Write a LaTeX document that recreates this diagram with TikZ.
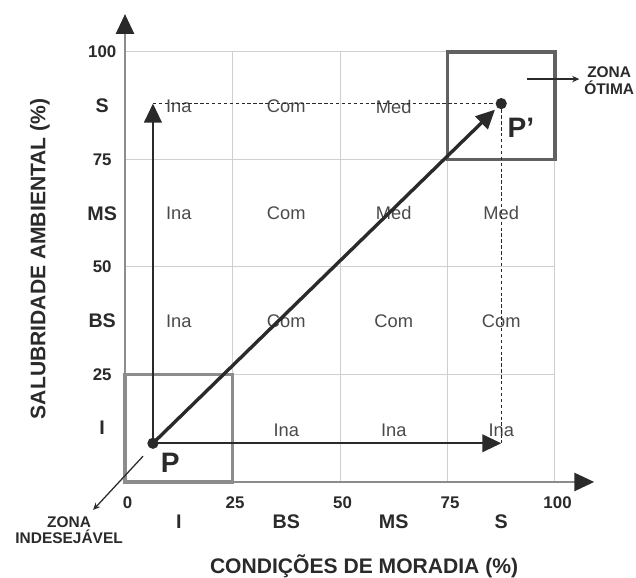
\documentclass[tikz,border=0pt]{standalone}
\usepackage{fontspec}
\setmainfont{Liberation Sans}
\usetikzlibrary{arrows.meta,calc}

\definecolor{ink}{HTML}{2A2A2A}
\definecolor{gridgray}{HTML}{CFCFCF}
\definecolor{axisgray}{HTML}{8C8C8C}

\begin{document}
\begin{tikzpicture}[x=1.075mm, y=1.075mm,
                    every node/.style = {text=ink},
                    grid line/.style = {draw=gridgray, line width=0.7pt},
                    axis/.style = {draw=axisgray, line width=1pt, -{Triangle[length=14pt, width=13pt, color=ink]}},
                    move/.style = {draw=ink, line width=1.6pt, -{Triangle[length=13.5pt, width=12.5pt]}},
                    guide/.style = {draw=ink, line width=0.7pt, dash pattern=on 2.4pt off 1.8pt},
                    zone/.style = {line width=2.8pt},
                    pointer/.style = {draw=ink, line width=0.9pt, -{Stealth[length=5pt, width=4.5pt]}},
                    dot/.style = {circle, fill=ink, inner sep=0pt, minimum size=8pt},
                    tick label/.style = {font=\fontsize{12}{13}\selectfont\bfseries},
                    level label/.style = {font=\fontsize{14}{15}\selectfont\bfseries},
                    cell/.style = {font=\fontsize{13}{14}\selectfont, text=ink!85},
                    axis title/.style = {font=\fontsize{15}{16}\selectfont\bfseries},
                    zone label/.style = {font=\fontsize{11}{12}\selectfont\bfseries, align=center},
                    point label/.style = {font=\fontsize{20}{21}\selectfont\bfseries} ]

                \useasboundingbox (-29.07,-22.33) rectangle (118.84,112.09);

                % grid
                \foreach \v in {25,50,...,100} {
                    \draw[grid line] (\v,0) -- (\v,100);
                    \draw[grid line] (0,\v) -- (100,\v);
                }
                \draw[axis] (0,0) -- (109.1,0);
                \draw[axis] (0,0) -- (0,108.8);

                % zones
                \draw[zone, draw=axisgray] (0,0) rectangle (25,25);
                \draw[zone, draw=black!62] (75,75) rectangle (100,100);

                % scale left
                \foreach \v in {25,50,75,100} \node[tick label] at (-5.3,\v) {\v};
                \foreach \v/\t in {87.5/S,62.5/MS,37.5/BS,12.5/I} \node[level label] at (-5.3,\v) {\t};
                % scale bottom
                \foreach \v in {0,25,50,75,100} \node[tick label] at (\v+0.6,-4.9) {\v};
                \foreach \v/\t in {12.5/I,37.5/BS,62.5/MS,87.5/S} \node[level label] at (\v,-9.3) {\t};

                \node[axis title, rotate=90] (ytitle) at (-19.8,51.9) {SALUBRIDADE AMBIENTAL (\%)};
                \node[axis title] (xtitle) at (55.6,-19.5) {CONDIÇÕES DE MORADIA (\%)};

                % classes
                \foreach \x/\y/\t in {12.5/87.3/Ina, 37.5/87.3/Com, 62.5/87.3/Med,
                                      12.5/62.5/Ina, 37.5/62.5/Com, 62.5/62.5/Med, 87.5/62.5/Med,
                                      12.5/37.3/Ina, 37.5/37.3/Com, 62.5/37.3/Com, 87.5/37.3/Com,
                                      37.5/12.1/Ina, 62.5/12.1/Ina, 87.5/12.1/Ina}
                    \node[cell] at (\x,\y) {\t};

                % points
                \node[dot] (P) at (6.5,9) {};
                \node[dot] (P2) at (87.5,88) {};
                \coordinate (top) at (P |- P2);
                \coordinate (right) at (P2 |- P);
                \node[point label] (Plabel) at (10.5,4.4) {P};
                \node[point label] (P2label) at (92.1,82.3) {P'};

                \draw[guide] (top) -- (P2);
                \draw[guide] (P2) -- (right);
                \draw[move] (P.center) -- (top);
                \draw[move] (P.center) -- (right);
                \draw[move, line width=2.4pt, shorten >=2pt] (P.center) -- (P2);

                % zone labels
                \node[zone label] (otima) at (112.6,93.3) {ZONA\\ÓTIMA};
                \coordinate (otimastart) at (93.5,93.7);
                \draw[pointer] (otimastart) -- (otimastart -| otima.west);

                \node[zone label] (indesejavel) at (-13,-11.2) {ZONA\\INDESEJÁVEL};
                \coordinate (indstart) at (4.2,6.0);
                \coordinate (indend) at (-7.4,-6.5);
                \draw[pointer] (indstart) -- (indend);
            \end{tikzpicture}
\end{document}
